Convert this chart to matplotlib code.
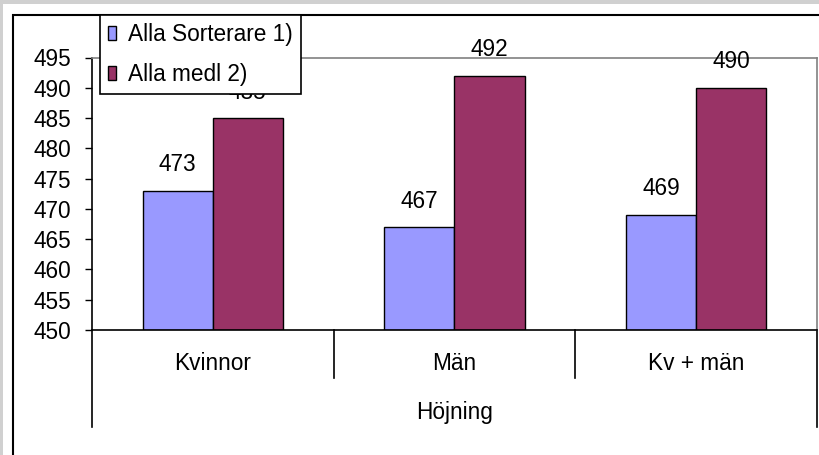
import matplotlib
matplotlib.use("Agg")
import matplotlib.pyplot as plt
from matplotlib.patches import Rectangle, Patch
from matplotlib.lines import Line2D
from matplotlib.transforms import blended_transform_factory

plt.rcParams['font.family'] = ['Liberation Sans', 'DejaVu Sans']

# data
categories = ['Kvinnor', 'Män', 'Kv + män']
sorterare = [473, 467, 469]
medl = [485, 492, 490]
series_names = ['Alla Sorterare 1)', 'Alla medl 2)']
group_label = 'Höjning'

blue = '#9999FF'
plum = '#993366'
fs = 16.3

W, H = 820, 455
fig = plt.figure(figsize=(W / 100, H / 100), dpi=100, facecolor='#d0d0d0')

# white chart area with a black frame running off the right and bottom
fig.patches.append(Rectangle((3 / W, -0.1), 1.2, 1 - 4 / H + 0.1,
                             transform=fig.transFigure, facecolor='white',
                             edgecolor='none', zorder=-3))
fig.patches.append(Rectangle((13 / W, -0.1), 1.2, 1 - 15 / H + 0.1,
                             transform=fig.transFigure, facecolor='none',
                             edgecolor='black', linewidth=1.5, zorder=-2))

left, right = 92 / W, 817 / W
bottom, top = 1 - 330 / H, 1 - 57.5 / H
ax = fig.add_axes([left, bottom, right - left, top - bottom])
ax.set_facecolor('none')

x = list(range(len(categories)))
bw = 0.29
ax.bar([i - bw / 2 for i in x], [v - 450 for v in sorterare], bw, bottom=450,
       color=blue, edgecolor='black', linewidth=1)
ax.bar([i + bw / 2 for i in x], [v - 450 for v in medl], bw, bottom=450,
       color=plum, edgecolor='black', linewidth=1)

for i in x:
    ax.annotate(str(sorterare[i]), (i - bw / 2, sorterare[i]), xytext=(0, 14),
                textcoords='offset points', ha='center', va='baseline', fontsize=fs)
    ax.annotate(str(medl[i]), (i + bw / 2, medl[i]), xytext=(0, 14),
                textcoords='offset points', ha='center', va='baseline', fontsize=fs)

ax.set_xlim(-0.5, 2.5)
ax.set_ylim(450, 495)
ax.set_yticks(range(450, 496, 5))
ax.tick_params(axis='y', direction='out', length=5, width=1, pad=10, labelsize=fs)
ax.set_xticks([])

for s in ['top', 'right']:
    ax.spines[s].set_color('#808080')
    ax.spines[s].set_linewidth(1.2)
for s in ['left', 'bottom']:
    ax.spines[s].set_color('black')
    ax.spines[s].set_linewidth(1.2)

# category table under the axis
ax_h = (top - bottom) * H
tr = blended_transform_factory(ax.transData, ax.transAxes)
for xd in [0.5, 1.5]:
    ax.add_line(Line2D([xd, xd], [0, -48 / ax_h], transform=tr, color='black',
                       linewidth=1.2, clip_on=False))
for xd in [-0.5, 2.5]:
    ax.add_line(Line2D([xd, xd], [0, -97 / ax_h], transform=tr, color='black',
                       linewidth=1.2, clip_on=False))
for i, c in enumerate(categories):
    ax.text(i, -33 / ax_h, c, transform=tr, ha='center', va='center', fontsize=fs)
ax.text(0.5, -83 / ax_h, group_label, transform=ax.transAxes, ha='center',
        va='center', fontsize=fs)

handles = [Patch(facecolor=blue, edgecolor='black', linewidth=1),
           Patch(facecolor=plum, edgecolor='black', linewidth=1)]
leg = fig.legend(handles, series_names, loc='upper left',
                 bbox_to_anchor=(100 / W, 1 - 15 / H), borderaxespad=0,
                 fontsize=fs, handlelength=0.35, handleheight=0.58,
                 handletextpad=0.53, borderpad=0.36, labelspacing=0.73,
                 fancybox=False, framealpha=1, edgecolor='black')
leg.get_frame().set_linewidth(1.2)

fig.savefig('out.png', dpi=100, facecolor=fig.get_facecolor())
